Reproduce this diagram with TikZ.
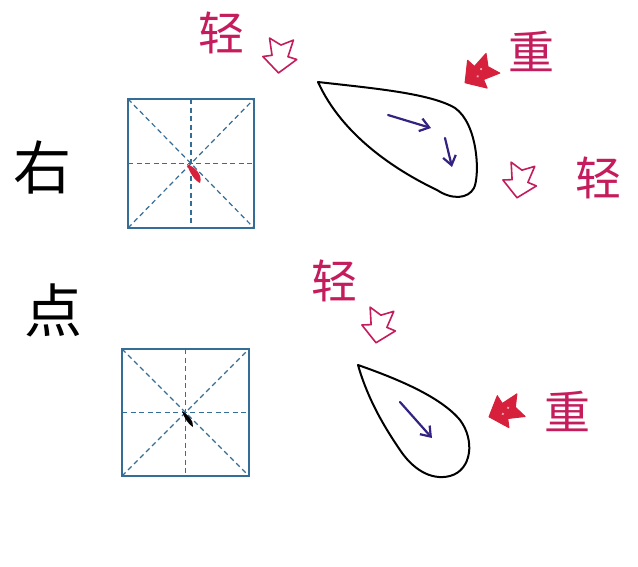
\documentclass[tikz,border=0pt]{standalone}
\usepackage{fontspec}
\newfontfamily\cjk{Noto Sans CJK SC}
\usetikzlibrary{arrows.meta}
\definecolor{inkred}{RGB}{196,28,92}
\definecolor{fillred}{RGB}{214,32,60}
\definecolor{gridblue}{RGB}{52,110,150}
\definecolor{navy}{RGB}{52,34,130}
\tikzset{
  redtext/.style={text=inkred,font=\cjk\fontsize{46}{46}\selectfont,inner sep=0pt},
  blacktext/.style={text=black,font=\cjk\fontsize{58}{58}\selectfont,inner sep=0pt},
  gridframe/.style={draw=gridblue,line width=1.4pt},
  gridline/.style={draw=gridblue,line width=1.2pt,dash pattern=on 5pt off 3.5pt},
  drop/.style={draw=black,line width=2pt,line join=round},
  dirarrow/.style={draw=navy,line width=2.2pt,line cap=round,-{Straight Barb[length=9pt,width=13pt,line width=2.2pt]}},
  hollowarrow/.pic={\draw[inkred,line width=1.6pt,line join=round] (17,0) -- (2,17) -- (0,8) -- (-17,12) -- (-11,0) -- (-17,-12) -- (0,-8) -- (2,-17) -- cycle;},
  solidarrow/.pic={\draw[fillred,fill=fillred,line width=1pt,line join=round] (17,0) -- (2,17) -- (0,8) -- (-17,12) -- (-11,0) -- (-17,-12) -- (0,-8) -- (2,-17) -- cycle;
    \fill[white,opacity=0.6] (-4,2) circle (1.3) (3,-2) circle (1.3);}
}
\begin{document}
\begin{tikzpicture}[x=1pt,y=-1pt]
\useasboundingbox (0,0) rectangle (638,566);
\fill[white] (0,0) rectangle (638,566);

% left characters
\node[blacktext] (you) at (42,167) {右};
\node[blacktext] (dian) at (53,310) {点};

% grid 1
\coordinate (g1a) at (128,99);
\coordinate (g1b) at (254,228);
\draw[gridline] (g1a) -- (g1b);
\draw[gridline] (128,228) -- (254,99);
\draw[gridline] (191,99) -- (191,228);
\draw[gridline] (128,163.5) -- (254,163.5);
\draw[gridframe] (g1a) rectangle (g1b);
\fill[fillred] (187,164) .. controls (195,167) and (203,175) .. (200,183) .. controls (195,181) and (189,172) .. (187,164) -- cycle;

% grid 2
\coordinate (g2a) at (122,349);
\coordinate (g2b) at (249,476);
\draw[gridline] (g2a) -- (g2b);
\draw[gridline] (122,476) -- (249,349);
\draw[gridline] (185.5,349) -- (185.5,476);
\draw[gridline] (122,412.5) -- (249,412.5);
\draw[gridframe] (g2a) rectangle (g2b);
\fill[black] (182,411) .. controls (187,414) and (194,420) .. (193,427) .. controls (189,425) and (184,418) .. (182,411) -- cycle;

% teardrop 1
\draw[drop] (318,82) .. controls (370,88) and (430,93) .. (455,108)
  .. controls (478,124) and (480,175) .. (474,188)
  .. controls (468,199) and (452,200) .. (437,190)
  .. controls (395,170) and (342,135) .. (318,82) -- cycle;
\coordinate (a1s) at (388,115);
\coordinate (a1e) at (431,128);
\coordinate (a2s) at (445,138);
\coordinate (a2e) at (452,167);
\draw[dirarrow] (a1s) -- (a1e);
\draw[dirarrow] (a2s) -- (a2e);

% teardrop 2
\draw[drop] (358,365) .. controls (395,378) and (440,396) .. (460,420)
  .. controls (475,440) and (472,470) .. (450,476)
  .. controls (430,481) and (412,468) .. (400,450)
  .. controls (385,428) and (368,400) .. (358,365) -- cycle;
\coordinate (a3s) at (400,402);
\coordinate (a3e) at (432,438);
\draw[dirarrow] (a3s) -- (a3e);

% labels
\node[redtext] (qing1) at (221,33) {轻};
\pic[rotate=-95] at (280,56) {hollowarrow};
\node[redtext] (zhong1) at (531,51) {重};
\pic[rotate=215] at (479,73) {solidarrow};
\pic[rotate=-100] at (520,181) {hollowarrow};
\node[redtext] (qing2) at (598,178) {轻};
\node[redtext] (qing3) at (334,281) {轻};
\pic[rotate=-100] at (379,326) {hollowarrow};
\pic[rotate=200] at (505,411) {solidarrow};
\node[redtext] (zhong2) at (567,411) {重};
\end{tikzpicture}
\end{document}
